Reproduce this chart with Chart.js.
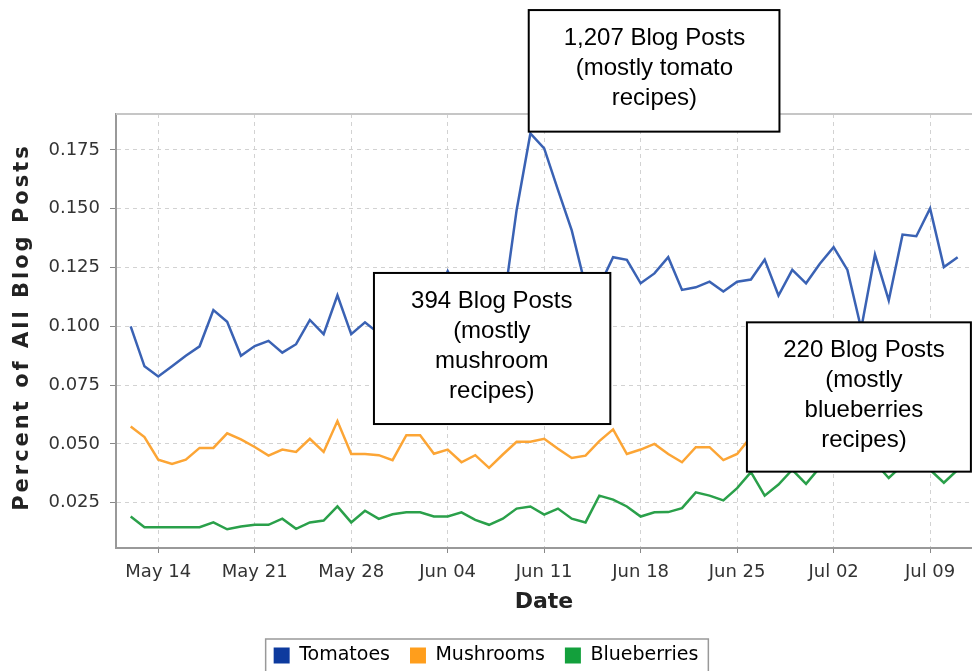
<!DOCTYPE html>
<html>
<head>
<meta charset="utf-8">
<script src="https://cdn.jsdelivr.net/npm/chart.js@4.4.1/dist/chart.umd.min.js"></script>
<style>
  html, body { margin: 0; padding: 0; background: #fff; }
</style>
</head>
<body>
<canvas id="chart" width="972" height="671"></canvas>
<script>
// one value per day, May 12 .. Jul 11 (day 0 = May 12)
const xTickDays = [2, 9, 16, 23, 30, 37, 44, 51, 58];
const xTickLabels = ['May 14', 'May 21', 'May 28', 'Jun 04', 'Jun 11', 'Jun 18', 'Jun 25', 'Jul 02', 'Jul 09'];
const yTicks = [0.025, 0.05, 0.075, 0.1, 0.125, 0.15, 0.175];
const yTitle = 'Percent of All Blog Posts';

const tomatoes = [
  0.100, 0.083, 0.0787, 0.083, 0.0875, 0.0915, 0.1069, 0.1019, 0.0875, 0.0916,
  0.0938, 0.0888, 0.0924, 0.1027, 0.0967, 0.1132, 0.0967, 0.1017, 0.097, 0.103,
  0.106, 0.104, 0.110, 0.1235, 0.112, 0.109, 0.113, 0.107, 0.1494, 0.182,
  0.1757, 0.158, 0.1408, 0.117, 0.117, 0.1294, 0.1283, 0.1183, 0.1225, 0.1294,
  0.1155, 0.1166, 0.119, 0.1148, 0.119, 0.1199, 0.1284, 0.1131, 0.124, 0.1183,
  0.1266, 0.1337, 0.124, 0.099, 0.1305, 0.111, 0.139, 0.1383, 0.1501, 0.1252,
  0.1294
];
const mushrooms = [
  0.0574, 0.0529, 0.0433, 0.0415, 0.0433, 0.0483, 0.0483, 0.0545, 0.0519, 0.0487,
  0.045, 0.0476, 0.0466, 0.0522, 0.0466, 0.0597, 0.0457, 0.0457, 0.0452, 0.0431,
  0.0537, 0.0537, 0.0458, 0.0476, 0.0422, 0.0452, 0.0398, 0.0455, 0.0509, 0.0509,
  0.0522, 0.0479, 0.044, 0.045, 0.0512, 0.0562, 0.0457, 0.0476, 0.05, 0.0457,
  0.0422, 0.0486, 0.0486, 0.0431, 0.0457, 0.053, 0.05, 0.048, 0.052, 0.049,
  0.051, 0.054, 0.05, 0.047, 0.052, 0.049, 0.053, 0.051, 0.048, 0.05,
  0.052
];
const blueberries = [
  0.0191, 0.0146, 0.0146, 0.0146, 0.0146, 0.0146, 0.0166, 0.0137, 0.0149, 0.0156,
  0.0156, 0.0182, 0.0139, 0.0166, 0.0174, 0.0234, 0.0166, 0.0216, 0.0181, 0.0201,
  0.0209, 0.0209, 0.0191, 0.0191, 0.0209, 0.0177, 0.0156, 0.0182, 0.0225, 0.0234,
  0.0199, 0.0225, 0.0182, 0.0166, 0.028, 0.0263, 0.0234, 0.0191, 0.0209, 0.021,
  0.0227, 0.0294, 0.028, 0.026, 0.0312, 0.038, 0.028, 0.0327, 0.039, 0.033,
  0.04, 0.041, 0.043, 0.04, 0.042, 0.0355, 0.041, 0.043, 0.039, 0.0335,
  0.039
];

// callout boxes, in data units (day, value)
const notes = [
  { x1: 28.88, x2: 47.07, y1: 0.2345, y2: 0.1828, tx: 38.0,
    lines: ['1,207 Blog Posts', '(mostly tomato', 'recipes)'] },
  { x1: 17.65, x2: 34.80, y1: 0.1227, y2: 0.05845, tx: 26.2,
    lines: ['394 Blog Posts', '(mostly', 'mushroom', 'recipes)'] },
  { x1: 44.71, x2: 60.96, y1: 0.1017, y2: 0.0382, tx: 53.2,
    lines: ['220 Blog Posts', '(mostly', 'blueberries', 'recipes)'] },
];

const tickFont = { family: 'DejaVu Sans', size: 18 };

const frame = {
  id: 'frame',
  beforeDatasetsDraw(chart) {
    const { ctx, chartArea: a } = chart;
    ctx.save();
    ctx.strokeStyle = '#c6c6c6';
    ctx.lineWidth = 2;
    ctx.beginPath();
    ctx.moveTo(a.left, a.top);
    ctx.lineTo(a.right, a.top);
    ctx.stroke();
    ctx.restore();
  },
  afterDraw(chart) {
    const { ctx } = chart;
    const xs = chart.scales.x;
    const ys = chart.scales.y;
    ctx.save();

    // y axis title, spaced out like the original
    ctx.save();
    ctx.translate(23, 327);
    ctx.rotate(-Math.PI / 2);
    ctx.font = 'bold 21px "DejaVu Sans"';
    ctx.letterSpacing = '3px';
    ctx.fillStyle = '#222';
    ctx.textAlign = 'center';
    ctx.textBaseline = 'middle';
    ctx.fillText(yTitle, 0, 0);
    ctx.restore();

    notes.forEach((n) => {
      const l = xs.getPixelForValue(n.x1);
      const r = xs.getPixelForValue(n.x2);
      const t = ys.getPixelForValue(n.y1);
      const b = ys.getPixelForValue(n.y2);
      ctx.fillStyle = '#fff';
      ctx.fillRect(l, t, r - l, b - t);
      ctx.strokeStyle = '#000';
      ctx.lineWidth = 2;
      ctx.strokeRect(l, t, r - l, b - t);
      ctx.fillStyle = '#000';
      ctx.font = '24px "Liberation Sans", Arial, sans-serif';
      ctx.textAlign = 'center';
      ctx.textBaseline = 'middle';
      const cx = xs.getPixelForValue(n.tx);
      const lh = 30;
      const y0 = (t + b) / 2 - 2 - (lh * (n.lines.length - 1)) / 2;
      n.lines.forEach((s, i) => ctx.fillText(s, cx, y0 + i * lh));
    });

    // border round the legend
    const boxes = chart.legend.legendHitBoxes;
    if (boxes && boxes.length) {
      const left = Math.min(...boxes.map((h) => h.left)) - 8;
      const right = Math.max(...boxes.map((h) => h.left + h.width)) + 10;
      const top = Math.min(...boxes.map((h) => h.top)) - 7;
      ctx.strokeStyle = '#999';
      ctx.lineWidth = 1.5;
      ctx.strokeRect(left, top, right - left, chart.height + 10 - top);
    }
    ctx.restore();
  },
};

function series(label, values, line, swatch) {
  return {
    label,
    data: values.map((y, i) => ({ x: i, y })),
    borderColor: line,
    backgroundColor: swatch,
    borderWidth: 2.5,
    pointRadius: 0,
    tension: 0,
  };
}

new Chart(document.getElementById('chart'), {
  type: 'line',
  data: {
    datasets: [
      series('Tomatoes', tomatoes, '#3a62b4', '#0d3a9e'),
      series('Mushrooms', mushrooms, '#fca535', '#ff9e1c'),
      series('Blueberries', blueberries, '#2aa04a', '#13a03c'),
    ],
  },
  options: {
    responsive: false,
    animation: false,
    devicePixelRatio: 1,
    layout: { padding: { top: 114, left: 0, right: 0, bottom: -4 } },
    plugins: {
      tooltip: { enabled: false },
      legend: {
        position: 'bottom',
        labels: {
          boxWidth: 16,
          boxHeight: 16,
          padding: 20,
          color: '#222',
          font: { family: 'DejaVu Sans', size: 19 },
          generateLabels: (chart) =>
            chart.data.datasets.map((d, i) => ({
              text: d.label,
              fillStyle: d.backgroundColor,
              strokeStyle: d.backgroundColor,
              lineWidth: 0,
              hidden: false,
              datasetIndex: i,
            })),
        },
      },
    },
    scales: {
      x: {
        type: 'linear',
        min: -1.065,
        max: 61.04,
        afterBuildTicks: (s) => {
          s.ticks = xTickDays.map((v) => ({ value: v }));
        },
        afterFit: (s) => {
          s.height = 675 - s.chart.legend.height - 548;
        },
        ticks: {
          autoSkip: false,
          maxRotation: 0,
          padding: 9,
          color: '#333',
          font: tickFont,
          callback: (v, i) => xTickLabels[i],
        },
        grid: { color: '#d2d2d2', lineWidth: 1, tickLength: 5, tickColor: '#888' },
        border: { color: '#999', width: 2, dash: [4, 4] },
        title: {
          display: true,
          text: 'Date',
          color: '#222',
          font: { family: 'DejaVu Sans', size: 22, weight: 'bold' },
          padding: { top: 0, bottom: 11 },
        },
      },
      y: {
        min: 0.00573,
        max: 0.1903,
        afterBuildTicks: (s) => {
          s.ticks = yTicks.map((v) => ({ value: v }));
        },
        afterFit: (s) => {
          s.width = 116;
        },
        ticks: {
          padding: 10,
          color: '#333',
          font: tickFont,
          callback: (v) => v.toFixed(3),
        },
        grid: { color: '#d2d2d2', lineWidth: 1, tickLength: 6, tickColor: '#888' },
        border: { color: '#999', width: 2, dash: [4, 4] },
        title: { display: false },
      },
    },
  },
  plugins: [frame],
});
</script>
</body>
</html>
